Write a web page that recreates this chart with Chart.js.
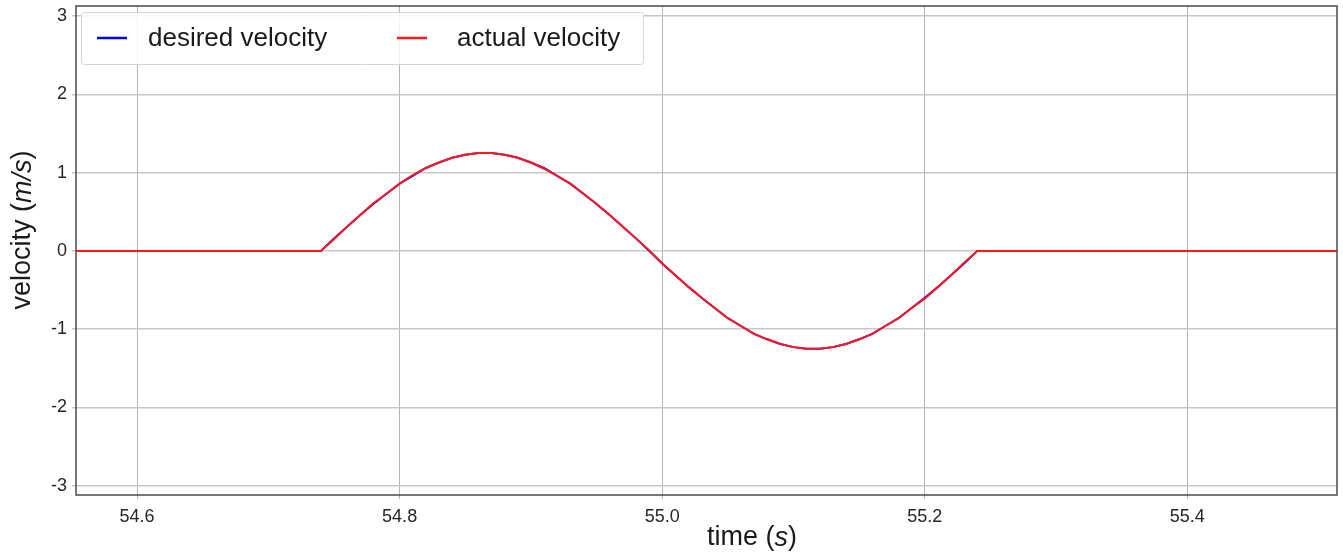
<!DOCTYPE html>
<html>
<head>
<meta charset="utf-8">
<script src="https://cdn.jsdelivr.net/npm/chart.js@4.4.1/dist/chart.umd.min.js"></script>
<style>
  html, body { margin: 0; padding: 0; background: #fff; }
  #wrap { width: 1343px; height: 553px; position: relative; }
</style>
</head>
<body>
<div id="wrap"><canvas id="velChart"></canvas></div>
<script>
// time stamps (s)
var timeS = [54.55, 54.74, 54.75, 54.76, 54.77, 54.78, 54.79, 54.80, 54.81, 54.82, 54.83,
  54.84, 54.85, 54.86, 54.87, 54.88, 54.89, 54.90, 54.91, 54.92, 54.93, 54.94, 54.95,
  54.96, 54.97, 54.98, 54.99, 55.00, 55.01, 55.02, 55.03, 55.04, 55.05, 55.06, 55.07,
  55.08, 55.09, 55.10, 55.11, 55.12, 55.13, 55.14, 55.15, 55.16, 55.17, 55.18, 55.19,
  55.20, 55.21, 55.22, 55.23, 55.24, 55.52];

// velocity (m/s)
var desiredVel = [0, 0, 0.16, 0.31, 0.46, 0.60, 0.73, 0.86, 0.96, 1.06, 1.13,
  1.19, 1.23, 1.25, 1.25, 1.23, 1.19, 1.13, 1.06, 0.96, 0.86, 0.73, 0.60,
  0.46, 0.31, 0.16, 0.00, -0.16, -0.31, -0.46, -0.60, -0.73, -0.86, -0.96, -1.06,
  -1.13, -1.19, -1.23, -1.25, -1.25, -1.23, -1.19, -1.13, -1.06, -0.96, -0.86, -0.73,
  -0.60, -0.46, -0.31, -0.16, 0, 0];

var actualVel = [0, 0, 0.15, 0.31, 0.46, 0.61, 0.73, 0.86, 0.97, 1.06, 1.13,
  1.19, 1.23, 1.25, 1.25, 1.23, 1.19, 1.13, 1.05, 0.96, 0.86, 0.73, 0.60,
  0.46, 0.31, 0.16, 0.01, -0.16, -0.31, -0.46, -0.60, -0.73, -0.86, -0.96, -1.06,
  -1.13, -1.19, -1.23, -1.25, -1.25, -1.23, -1.19, -1.13, -1.06, -0.96, -0.86, -0.73,
  -0.61, -0.46, -0.31, -0.15, 0, 0];

var xTicks = [54.6, 54.8, 55.0, 55.2, 55.4];
var yTicks = [-3, -2, -1, 0, 1, 2, 3];

var FONT = '"Liberation Sans", Arial, sans-serif';

function toPoints(ys) {
  return timeS.map(function (t, i) { return { x: t, y: ys[i] }; });
}

// draws a string made of normal/italic parts, centred on (x, y)
function drawParts(ctx, parts, x, y, size) {
  var total = 0;
  parts.forEach(function (p) {
    ctx.font = (p[1] ? 'italic ' : '') + size + 'px ' + FONT;
    total += ctx.measureText(p[0]).width;
  });
  var cx = x - total / 2;
  ctx.textAlign = 'left';
  ctx.textBaseline = 'middle';
  parts.forEach(function (p) {
    ctx.font = (p[1] ? 'italic ' : '') + size + 'px ' + FONT;
    ctx.fillText(p[0], cx, y);
    cx += ctx.measureText(p[0]).width;
  });
}

var extras = {
  id: 'extras',
  afterDraw: function (chart) {
    var ctx = chart.ctx, a = chart.chartArea;
    ctx.save();
    // frame
    ctx.strokeStyle = '#4a4a4a';
    ctx.lineWidth = 1.5;
    ctx.strokeRect(a.left, a.top, a.right - a.left, a.bottom - a.top);

    // axis titles
    ctx.fillStyle = '#1a1a1a';
    drawParts(ctx, [['time (', false], ['s', true], [')', false]], 752, 538, 27);
    ctx.save();
    ctx.translate(23, 230);
    ctx.rotate(-Math.PI / 2);
    drawParts(ctx, [['velocity (', false], ['m/s', true], [')', false]], 0, 0, 27);
    ctx.restore();

    // legend box
    ctx.fillStyle = 'rgba(255,255,255,0.85)';
    ctx.strokeStyle = '#d4d4d4';
    ctx.lineWidth = 1;
    ctx.beginPath();
    ctx.roundRect(81.5, 12.5, 562, 52, 3);
    ctx.fill();
    ctx.stroke();
    var ds = chart.data.datasets;
    var itemX = [97, 397];
    ctx.font = '26px ' + FONT;
    ctx.textAlign = 'left';
    ctx.textBaseline = 'middle';
    ds.forEach(function (d, i) {
      ctx.strokeStyle = d.borderColor;
      ctx.lineWidth = 2.5;
      ctx.beginPath();
      ctx.moveTo(itemX[i], 38);
      ctx.lineTo(itemX[i] + 30, 38);
      ctx.stroke();
      ctx.fillStyle = '#1a1a1a';
      ctx.fillText(d.label, itemX[i] + 51 + (i ? 9 : 0), 39);
    });
    ctx.restore();
  }
};

var ctx = document.getElementById('velChart').getContext('2d');
var myChart = new Chart(ctx, {
  type: 'line',
  data: {
    datasets: [{
      label: 'desired velocity',
      data: toPoints(desiredVel),
      borderColor: '#0000ff',
      borderWidth: 2,
      pointRadius: 0,
      tension: 0,
      order: 1
    }, {
      label: 'actual velocity',
      data: toPoints(actualVel),
      borderColor: '#ff1a1a',
      borderWidth: 2,
      pointRadius: 0,
      tension: 0,
      order: 0
    }]
  },
  options: {
    responsive: true,
    maintainAspectRatio: false,
    animation: false,
    layout: { padding: { top: 6, right: 6, left: 0, bottom: 0 } },
    plugins: {
      legend: { display: false },
      tooltip: { enabled: false }
    },
    scales: {
      x: {
        type: 'linear',
        min: 54.5535,
        max: 55.514,
        afterBuildTicks: function (scale) {
          scale.ticks = xTicks.map(function (v) { return { value: v }; });
        },
        afterFit: function (scale) {
          scale.height = 58;
          scale.paddingLeft = 0;
          scale.paddingRight = 0;
        },
        ticks: {
          autoSkip: false,
          maxRotation: 0,
          padding: 7,
          color: '#262626',
          font: { family: FONT, size: 18 },
          callback: function (v) { return Number(v).toFixed(1); }
        },
        grid: { color: '#b4b4b4', lineWidth: 1, tickLength: 4 },
        border: { display: false }
      },
      y: {
        min: -3.12,
        max: 3.13,
        afterBuildTicks: function (scale) {
          scale.ticks = yTicks.map(function (v) { return { value: v }; });
        },
        afterFit: function (scale) {
          scale.width = 76;
          scale.paddingTop = 0;
          scale.paddingBottom = 0;
        },
        ticks: {
          autoSkip: false,
          padding: 5,
          color: '#262626',
          font: { family: FONT, size: 18 },
          callback: function (v) { return String(v); }
        },
        grid: { color: '#c8c8c8', lineWidth: 1.5, tickLength: 4 },
        border: { display: false }
      }
    }
  },
  plugins: [extras]
});
</script>
</body>
</html>
